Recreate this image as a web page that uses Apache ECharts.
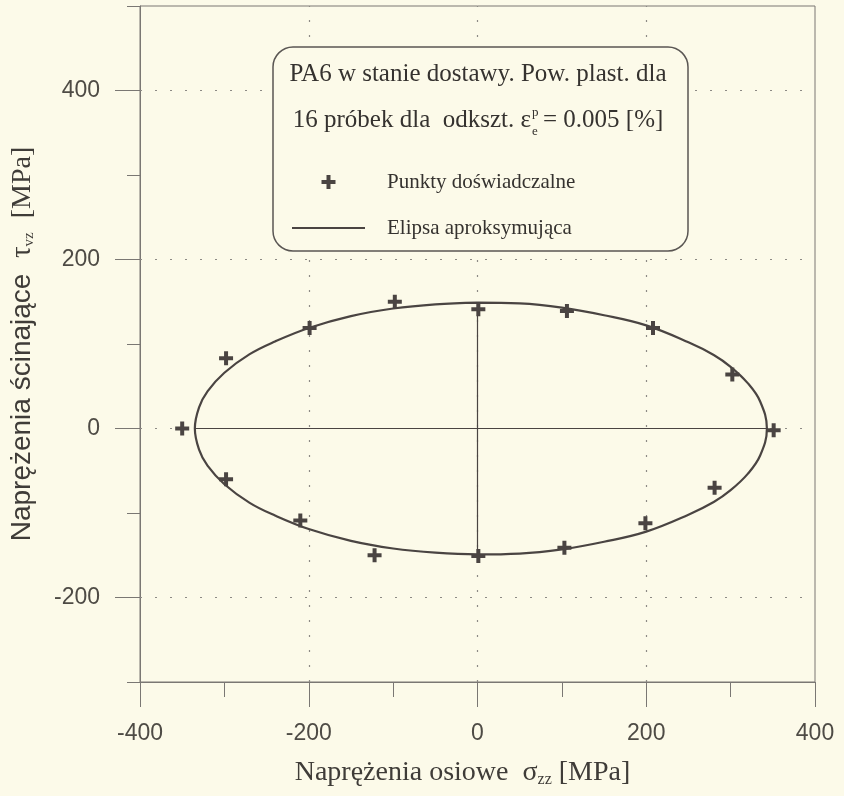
<!DOCTYPE html>
<html>
<head>
<meta charset="utf-8">
<script src="https://cdn.jsdelivr.net/npm/echarts@6/dist/echarts.min.js"></script>
<style>
  html, body { margin: 0; padding: 0; background: #fcfae9; }
  #chart { width: 844px; height: 796px; }
</style>
</head>
<body>
<div id="chart"></div>
<script>
// Axis ranges and labelled tick values
const sigmaRange = [-400, 400];
const tauRange = [-300, 500];
const sigmaMajorTicks = [-400, -200, 0, 200, 400];
const tauMajorTicks = [-200, 0, 200, 400];
const sigmaGrid = [-200, 0, 200];
const tauGrid = [-200, 0, 200, 400];

// Experimental yield points (16 specimens): sigma_zz, tau_vz [MPa]
const pointSigma = [-350, -298, -199, -98, 1, 106, 208, 302, 351, 281, 199, 103, 1, -122, -210, -298];
const pointTau   = [0, 83, 119, 150, 141, 139, 119, 64, -2, -70, -112, -141, -151, -150, -109, -60];

// Approximating ellipse, traced around its outline
const ellipseSigma = [0, 50, 100, 150, 200, 250, 280, 300, 320, 335, 343, 335, 320, 300, 280, 250, 200, 150, 100, 50, 0,
                      -50, -100, -150, -200, -240, -270, -300, -320, -330, -335, -330, -320, -300, -270, -240, -200, -150, -100, -50, 0];
const ellipseTau   = [149, 148, 143, 134, 122, 102, 87, 73, 54, 32, 0, -32, -54, -73, -87, -102, -122, -134, -143, -148, -149,
                      -147, -142, -133, -119, -103, -88, -66, -44, -25, 0, 25, 44, 66, 88, 103, 119, 133, 142, 147, 149];

// Semi-axes of the ellipse
const majorAxisSigma = [-335, 343];
const minorAxisTau = [-149, 149];

const pointsName = 'Punkty doświadczalne';
const ellipseName = 'Elipsa aproksymująca';

const ink = '#4a4442';
const frame = '#7a7773';
const plusPath = 'path://M5,0H9V5H14V9H9V14H5V9H0V5H5Z';
// legend sample: thin horizontal stroke centred in a 73x14 box
const lineIconPath = 'path://M0,0M0,6.1H73V7.9H0ZM73,14';

const zip = (xs, ys) => xs.map((x, i) => [x, ys[i]]);

const chart = echarts.init(document.getElementById('chart'));

const sansFont = '"Liberation Sans", Arial, sans-serif';
const serifFont = '"Liberation Serif", "Times New Roman", serif';

const gridMarks = tauGrid.map(v => ({ yAxis: v })).concat(sigmaGrid.map(v => ({ xAxis: v })));

chart.setOption({
  animation: false,
  backgroundColor: '#fcfae9',
  grid: {
    left: 140, right: 29, top: 6, bottom: 114,
    show: true, borderColor: frame, borderWidth: 1, backgroundColor: 'transparent'
  },
  xAxis: [
    {
      type: 'value', min: sigmaRange[0], max: sigmaRange[1], interval: 200,
      position: 'bottom',
      axisLine: { show: true, onZero: false, lineStyle: { color: frame, width: 1 } },
      axisTick: { show: true, length: 25, lineStyle: { color: frame } },
      axisLabel: {
        show: true, margin: 40, color: '#4e4b45',
        fontFamily: sansFont, fontSize: 23,
        formatter: v => sigmaMajorTicks.includes(v) ? String(v) : ''
      },
      splitLine: { show: false },
      name: '{t|Naprężenia osiowe  }{s|σ}{sub|zz}{t| [MPa]}',
      nameLocation: 'middle', nameGap: 76,
      nameTextStyle: {
        padding: [0, 30, 0, 0],
        rich: {
          t: { fontFamily: serifFont, fontSize: 28, color: '#3f3c38' },
          s: { fontFamily: serifFont, fontSize: 28, color: '#3f3c38' },
          sub: { fontFamily: serifFont, fontSize: 16, color: '#3f3c38', padding: [14, 0, 0, 0] }
        }
      }
    },
    {
      type: 'value', min: sigmaRange[0], max: sigmaRange[1], interval: 100,
      position: 'bottom',
      axisLine: { show: false, onZero: false },
      axisTick: { show: true, length: 15, lineStyle: { color: frame } },
      axisLabel: { show: false },
      splitLine: { show: false }
    }
  ],
  yAxis: [
    {
      type: 'value', min: tauRange[0], max: tauRange[1], interval: 100,
      position: 'left',
      axisLine: { show: true, onZero: false, lineStyle: { color: frame, width: 1 } },
      axisTick: { show: true, length: 13, lineStyle: { color: frame } },
      axisLabel: {
        show: true, margin: 40, color: '#4e4b45',
        fontFamily: sansFont, fontSize: 23,
        formatter: v => tauMajorTicks.includes(v) ? String(v) : ''
      },
      splitLine: { show: false },
      name: '{s|Naprężenia ścinające  }{t|τ}{sub|vz}{u|  [MPa]}',
      nameLocation: 'middle', nameGap: 103, nameRotate: 90,
      nameTextStyle: {
        rich: {
          s: { fontFamily: sansFont, fontSize: 28, color: '#3f3c38' },
          t: { fontFamily: serifFont, fontSize: 29, color: '#3f3c38' },
          sub: { fontFamily: serifFont, fontSize: 15, color: '#3f3c38', padding: [14, 0, 0, 0] },
          u: { fontFamily: serifFont, fontSize: 28, color: '#3f3c38' }
        }
      }
    },
    {
      type: 'value', min: tauRange[0], max: tauRange[1], interval: 100,
      position: 'left',
      axisLine: { show: false, onZero: false },
      axisTick: { show: true, length: 25, customValues: tauMajorTicks, lineStyle: { color: frame } },
      axisLabel: { show: false },
      splitLine: { show: false }
    }
  ],
  legend: {
    orient: 'vertical',
    left: 287, top: 165,
    itemWidth: 73, itemHeight: 14, itemGap: 22,
    selectedMode: false,
    data: [
      { name: pointsName, icon: plusPath },
      { name: ellipseName, icon: lineIconPath }
    ],
    textStyle: { fontFamily: serifFont, fontSize: 21, color: '#35322f', lineHeight: 24, padding: [0, 0, 0, 17] }
  },
  graphic: [
    {
      type: 'rect', z: 3,
      shape: { x: 273, y: 47, width: 415, height: 204, r: 20 },
      style: { fill: '#fcfae9', stroke: '#5a5653', lineWidth: 1.5 }
    },
    {
      type: 'text', z: 6, x: 478, y: 74,
      style: { text: 'PA6 w stanie dostawy. Pow. plast. dla', font: '25px ' + serifFont, fill: '#35322f', textAlign: 'center', textVerticalAlign: 'middle' }
    },
    {
      type: 'text', z: 6, x: 531, y: 120,
      style: { text: '16 próbek dla  odkszt. ε', font: '25px ' + serifFont, fill: '#35322f', textAlign: 'right', textVerticalAlign: 'middle' }
    },
    {
      type: 'text', z: 6, x: 532, y: 113,
      style: { text: 'p', font: '13px ' + serifFont, fill: '#35322f', textAlign: 'left', textVerticalAlign: 'middle' }
    },
    {
      type: 'text', z: 6, x: 532, y: 132,
      style: { text: 'e', font: '13px ' + serifFont, fill: '#35322f', textAlign: 'left', textVerticalAlign: 'middle' }
    },
    {
      type: 'text', z: 6, x: 543, y: 120,
      style: { text: '= 0.005 [%]', font: '25px ' + serifFont, fill: '#35322f', textAlign: 'left', textVerticalAlign: 'middle' }
    }
  ],
  series: [
    {
      name: 'osie',
      type: 'line',
      data: zip(majorAxisSigma, [0, 0]),
      symbol: 'none',
      lineStyle: { color: ink, width: 1.2 },
      silent: true,
      z: 2,
      markLine: {
        silent: true,
        symbol: 'none',
        label: { show: false },
        lineStyle: { color: '#8d8a85', width: 1.2, type: [2, 13] },
        data: gridMarks,
        z: 1
      }
    },
    {
      name: 'osie-tau',
      type: 'line',
      data: zip([0, 0], minorAxisTau),
      symbol: 'none',
      lineStyle: { color: ink, width: 1.2 },
      silent: true,
      z: 2
    },
    {
      name: ellipseName,
      type: 'line',
      data: zip(ellipseSigma, ellipseTau),
      smooth: 0.4,
      symbol: 'none',
      lineStyle: { color: ink, width: 2.2 },
      itemStyle: { color: ink },
      z: 3
    },
    {
      name: pointsName,
      type: 'scatter',
      data: zip(pointSigma, pointTau),
      symbol: plusPath,
      symbolSize: 14,
      itemStyle: { color: ink, opacity: 1 },
      z: 4
    }
  ]
});
</script>
</body>
</html>
